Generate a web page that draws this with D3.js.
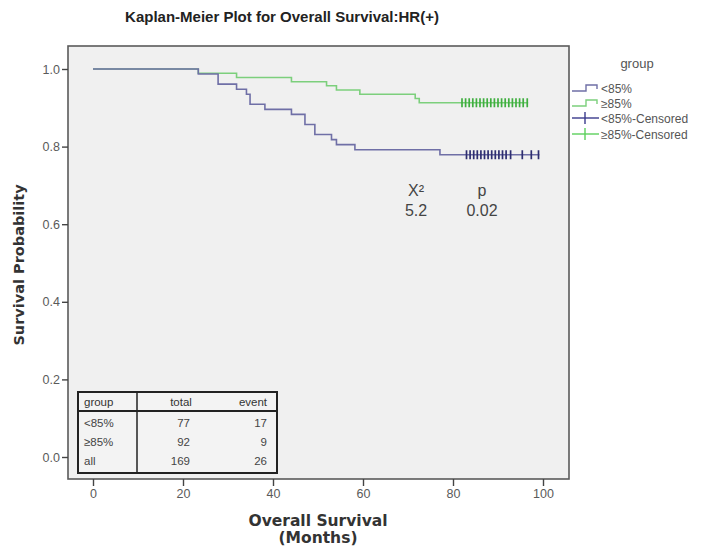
<!DOCTYPE html>
<html>
<head>
<meta charset="utf-8">
<script src="https://cdn.jsdelivr.net/npm/d3@7"></script>
<style>
  html, body { margin: 0; padding: 0; background: #ffffff; }
  svg { display: block; }
</style>
</head>
<body>
<svg id="chart" width="705" height="550"></svg>
<script>
// ---- data ----------------------------------------------------------
// Kaplan-Meier step curves: event times (months) and survival after each step
const lowTimes     = [0, 23.4, 27.8, 31.9, 34.1, 34.9, 38.2, 44.1, 47.1, 49.3, 53.0, 54.1, 58.2, 77.1];
const lowSurvival  = [1, 0.987, 0.961, 0.948, 0.935, 0.909, 0.896, 0.883, 0.857, 0.831, 0.818, 0.805, 0.792, 0.779];
const lowEnd       = 99.2;
const lowCensored  = [83.0, 83.8, 84.6, 85.4, 86.2, 87.0, 87.8, 88.6, 89.4, 90.2, 91.0, 91.8, 92.8, 95.4, 97.4, 99.0];

const highTimes    = [0, 23.4, 31.9, 44.1, 51.9, 54.1, 59.3, 71.6, 72.5];
const highSurvival = [1, 0.989, 0.978, 0.967, 0.957, 0.946, 0.935, 0.924, 0.913];
const highEnd      = 96.7;
const highCensored = [82.0, 82.8, 83.6, 84.4, 85.2, 86.0, 86.8, 87.6, 88.4, 89.2, 90.0, 90.8, 91.6, 92.4, 93.2, 94.0, 94.8, 95.6, 96.5];

const xTicks = [0, 20, 40, 60, 80, 100];
const yTicks = [0, 0.2, 0.4, 0.6, 0.8, 1.0];

const legendLabels = ["<85%", "≥85%", "<85%-Censored", "≥85%-Censored"];

const tableHeader = ["group", "total", "event"];
const tableGroups = ["<85%", "≥85%", "all"];
const tableTotals = [77, 92, 169];
const tableEvents = [17, 9, 26];

const statLabels = ["X²", "p"];
const statValues = ["5.2", "0.02"];

// ---- layout --------------------------------------------------------
const svg = d3.select("#chart");
const frame = { left: 68, right: 569, top: 46, bottom: 479 };
const x = d3.scaleLinear().domain([0, 100]).range([93, 543]);
const y = d3.scaleLinear().domain([0, 1]).range([457, 69]);

const colLow = "#6f6fa6", colHigh = "#7ccf7c";
const colLowCens = "#2e2e70", colHighCens = "#3fae3f";
const tickText = "#5a5a5a";
const sans = "Liberation Sans, Arial, sans-serif";
const heavy = "DejaVu Sans, Verdana, sans-serif";

// plot background + frame
svg.append("rect")
  .attr("x", frame.left).attr("y", frame.top)
  .attr("width", frame.right - frame.left).attr("height", frame.bottom - frame.top)
  .attr("fill", "#f0f0f0").attr("stroke", "#5a5a5a").attr("stroke-width", 1.6);

// y axis
const yAxis = d3.axisLeft(y).tickValues(yTicks).tickFormat(d3.format(".1f")).tickSize(6).tickPadding(2);
const gy = svg.append("g").attr("transform", `translate(${frame.left},0)`).call(yAxis);
gy.select(".domain").remove();
gy.selectAll(".tick line").attr("stroke", "#444").attr("stroke-width", 1.4);
gy.selectAll(".tick text").attr("fill", tickText).attr("font-family", sans).attr("font-size", 12.5);

// x axis
const xAxis = d3.axisBottom(x).tickValues(xTicks).tickFormat(d3.format("d")).tickSize(7).tickPadding(3);
const gx = svg.append("g").attr("transform", `translate(0,${frame.bottom})`).call(xAxis);
gx.select(".domain").remove();
gx.selectAll(".tick line").attr("stroke", "#444").attr("stroke-width", 1.4);
gx.selectAll(".tick text").attr("fill", tickText).attr("font-family", sans).attr("font-size", 12.5);

// step curves
function stepPoints(times, surv, end) {
  const pts = times.map((t, i) => [t, surv[i]]);
  pts.push([end, surv[surv.length - 1]]);
  return pts;
}
const line = d3.line().x(d => x(d[0])).y(d => y(d[1])).curve(d3.curveStepAfter);

svg.append("path").datum(stepPoints(highTimes, highSurvival, highEnd))
  .attr("d", line).attr("fill", "none").attr("stroke", colHigh).attr("stroke-width", 1.6);
svg.append("path").datum(stepPoints(lowTimes, lowSurvival, lowEnd))
  .attr("d", line).attr("fill", "none").attr("stroke", colLow).attr("stroke-width", 1.6);

// censor marks sit on the curve level at their time
function levelAt(times, surv, t) {
  const i = d3.bisectRight(times, t) - 1;
  return surv[Math.max(0, i)];
}
function drawCensors(list, times, surv, color) {
  svg.append("g").selectAll("line").data(list).join("line")
    .attr("x1", d => x(d)).attr("x2", d => x(d))
    .attr("y1", d => y(levelAt(times, surv, d)) - 4.5)
    .attr("y2", d => y(levelAt(times, surv, d)) + 4.5)
    .attr("stroke", color).attr("stroke-width", 1.7);
}
drawCensors(highCensored, highTimes, highSurvival, colHighCens);
drawCensors(lowCensored, lowTimes, lowSurvival, colLowCens);

// log-rank statistic
const statX = [416, 482];
statLabels.forEach((s, i) => {
  svg.append("text").attr("x", statX[i]).attr("y", 196).attr("text-anchor", "middle")
    .attr("font-family", sans).attr("font-size", 16).attr("fill", "#444").text(s);
  svg.append("text").attr("x", statX[i]).attr("y", 216).attr("text-anchor", "middle")
    .attr("font-family", sans).attr("font-size", 16).attr("fill", "#444").text(statValues[i]);
});

// summary table
const tb = { left: 78, right: 277, top: 392, bottom: 473, divider: 137, headerLine: 411 };
const tg = svg.append("g");
tg.append("rect").attr("x", tb.left).attr("y", tb.top)
  .attr("width", tb.right - tb.left).attr("height", tb.bottom - tb.top)
  .attr("fill", "#f3f3f3").attr("stroke", "#222").attr("stroke-width", 2);
tg.append("line").attr("x1", tb.divider).attr("x2", tb.divider).attr("y1", tb.top).attr("y2", tb.bottom)
  .attr("stroke", "#222").attr("stroke-width", 1.5);
tg.append("line").attr("x1", tb.left).attr("x2", tb.right).attr("y1", tb.headerLine).attr("y2", tb.headerLine)
  .attr("stroke", "#222").attr("stroke-width", 2.2);
const tSize = 11.5;
const headerX = [84, 181, 253];
const headerAnchor = ["start", "middle", "middle"];
tableHeader.forEach((h, i) => {
  tg.append("text").attr("x", headerX[i]).attr("y", 406).attr("text-anchor", headerAnchor[i])
    .attr("font-family", sans).attr("font-size", tSize).attr("fill", "#333").text(h);
});
const rowY = [427, 446, 465];
tableGroups.forEach((g, i) => {
  tg.append("text").attr("x", 84).attr("y", rowY[i]).attr("font-family", sans)
    .attr("font-size", tSize).attr("fill", "#444").text(g);
  tg.append("text").attr("x", 190).attr("y", rowY[i]).attr("text-anchor", "end").attr("font-family", sans)
    .attr("font-size", tSize).attr("fill", "#444").text(tableTotals[i]);
  tg.append("text").attr("x", 267).attr("y", rowY[i]).attr("text-anchor", "end").attr("font-family", sans)
    .attr("font-size", tSize).attr("fill", "#444").text(tableEvents[i]);
});

// legend
const lg = svg.append("g");
lg.append("text").attr("x", 637).attr("y", 68).attr("text-anchor", "middle")
  .attr("font-family", sans).attr("font-size", 13).attr("fill", "#555").text("group");
const legendY = [88, 103, 118, 134];
const legendColors = [colLow, colHigh, "#3a3a8c", "#5cd05c"];
legendLabels.forEach((lab, i) => {
  const ly = legendY[i];
  if (i < 2) {
    lg.append("path")
      .attr("d", `M572,${ly + 3}H586V${ly - 3}H597V${ly + 1}`)
      .attr("fill", "none").attr("stroke", legendColors[i]).attr("stroke-width", 1.4);
  } else {
    lg.append("line").attr("x1", 572).attr("x2", 599).attr("y1", ly).attr("y2", ly)
      .attr("stroke", legendColors[i]).attr("stroke-width", 1.4);
    lg.append("line").attr("x1", 585).attr("x2", 585).attr("y1", ly - 6).attr("y2", ly + 6)
      .attr("stroke", legendColors[i]).attr("stroke-width", 1.4);
  }
  lg.append("text").attr("x", 601).attr("y", ly + 4.5)
    .attr("font-family", sans).attr("font-size", 12).attr("fill", "#555").text(lab);
});

// titles
svg.append("text").attr("x", 282).attr("y", 22).attr("text-anchor", "middle")
  .attr("font-family", sans).attr("font-size", 15).attr("font-weight", "bold")
  .attr("fill", "#222").text("Kaplan-Meier Plot for Overall Survival:HR(+)");

svg.append("text").attr("transform", "translate(24,265) rotate(-90)").attr("text-anchor", "middle")
  .attr("font-family", heavy).attr("font-size", 14.5).attr("font-weight", "bold")
  .attr("fill", "#333").text("Survival Probability");

const xl = svg.append("text").attr("text-anchor", "middle")
  .attr("font-family", heavy).attr("font-size", 15.5).attr("font-weight", "bold").attr("fill", "#333");
xl.append("tspan").attr("x", 318).attr("y", 526).text("Overall Survival");
xl.append("tspan").attr("x", 318).attr("y", 543).text("(Months)");
</script>
</body>
</html>
